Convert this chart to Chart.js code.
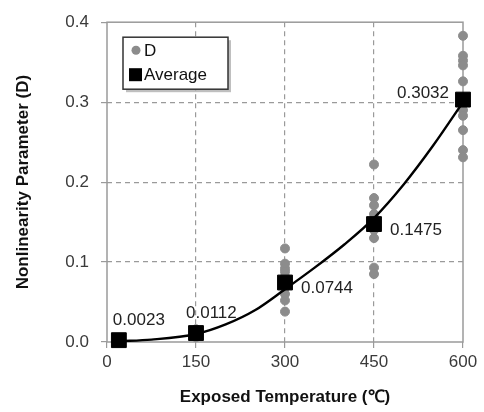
<!DOCTYPE html>
<html>
<head>
<meta charset="utf-8">
<script src="https://cdn.jsdelivr.net/npm/chart.js@4/dist/chart.umd.min.js"></script>
<style>
  html, body { margin: 0; padding: 0; background: #ffffff; }
  #wrap { width: 484px; height: 412px; }
</style>
</head>
<body>
<div id="wrap"><canvas id="chart" width="484" height="412"></canvas></div>
<script>
// Data
const dTemps = [20, 20, 150, 150, 150, 150,
  300, 300, 300, 300, 300, 300, 300, 300, 300, 300,
  450, 450, 450, 450, 450, 450, 450, 450, 450,
  600, 600, 600, 600, 600, 600, 600, 600, 600, 600];
const dValues = [0.002, 0.003, 0.006, 0.010, 0.013, 0.016,
  0.117, 0.098, 0.092, 0.088, 0.082, 0.075, 0.068, 0.060, 0.052, 0.038,
  0.222, 0.180, 0.171, 0.160, 0.150, 0.140, 0.130, 0.093, 0.085,
  0.383, 0.358, 0.352, 0.346, 0.326, 0.290, 0.283, 0.265, 0.240, 0.231];
const avgTemps = [20, 150, 300, 450, 600];
const avgValues = [0.0023, 0.0112, 0.0744, 0.1475, 0.3032];
const curveTemps = [20, 75, 150, 200, 250, 300, 350, 400, 450, 500, 550, 600];
const curveValues = [0.001, 0.003, 0.010, 0.022, 0.040, 0.066, 0.093, 0.122, 0.155, 0.197, 0.246, 0.300];
const xTicks = [0, 150, 300, 450, 600];
const yTicks = [0, 0.1, 0.2, 0.3, 0.4];

const font = "'Liberation Sans', Arial, sans-serif";
const toPoints = (xs, ys) => xs.map((x, i) => ({ x: x, y: ys[i] }));

// where each average label sits relative to its square
const labelPlace = [
  { dx: -6, dy: -20, align: "left" },
  { dx: -10, dy: -20, align: "left" },
  { dx: 16, dy: 6, align: "left" },
  { dx: 16, dy: 6, align: "left" },
  { dx: -14, dy: -6, align: "right" }
];

const avgLabels = {
  id: "avgLabels",
  afterDatasetsDraw(chart) {
    const ctx = chart.ctx;
    const meta = chart.getDatasetMeta(0);
    ctx.save();
    ctx.font = "17px " + font;
    ctx.fillStyle = "#222222";
    ctx.textBaseline = "middle";
    meta.data.forEach((pt, i) => {
      const p = labelPlace[i];
      ctx.textAlign = p.align;
      ctx.fillText(avgValues[i].toFixed(4), pt.x + p.dx, pt.y + p.dy);
    });
    ctx.restore();
  }
};

const frameAndLegend = {
  id: "frameAndLegend",
  beforeDatasetsDraw(chart) {
    const ctx = chart.ctx;
    const a = chart.chartArea;
    ctx.save();
    ctx.strokeStyle = "#9a9a9a";
    ctx.lineWidth = 1.5;
    ctx.strokeRect(a.left, a.top, a.right - a.left, a.bottom - a.top);
    ctx.restore();
  },
  afterDraw(chart) {
    const ctx = chart.ctx;
    const a = chart.chartArea;
    const x = a.left + 16, y = a.top + 15, w = 105, h = 52;
    ctx.save();
    ctx.fillStyle = "rgba(0,0,0,0.25)";
    ctx.fillRect(x + 3, y + 3, w, h);
    ctx.fillStyle = "#ffffff";
    ctx.fillRect(x, y, w, h);
    ctx.strokeStyle = "#333333";
    ctx.lineWidth = 1.5;
    ctx.strokeRect(x, y, w, h);
    ctx.fillStyle = "#8c8c8c";
    ctx.beginPath();
    ctx.arc(x + 13, y + 13, 4.5, 0, Math.PI * 2);
    ctx.fill();
    ctx.fillStyle = "#000000";
    ctx.fillRect(x + 6, y + 31, 13, 13);
    ctx.font = "17px " + font;
    ctx.fillStyle = "#111111";
    ctx.textBaseline = "middle";
    ctx.textAlign = "left";
    ctx.fillText(chart.data.datasets[2].label, x + 21, y + 14);
    ctx.fillText(chart.data.datasets[0].label, x + 21, y + 38);
    ctx.restore();
  }
};

const gridColor = (ctx) => {
  const v = ctx.tick ? ctx.tick.value : null;
  const s = ctx.scale;
  if (v === s.min || v === s.max) return "rgba(0,0,0,0)";
  return "#9a9a9a";
};

new Chart(document.getElementById("chart"), {
  type: "scatter",
  data: {
    datasets: [
      {
        label: "Average",
        data: toPoints(avgTemps, avgValues),
        pointStyle: "rect",
        pointRadius: 10.5,
        backgroundColor: "#000000",
        borderColor: "#000000",
        clip: false,
        order: 0
      },
      {
        label: "fit",
        type: "line",
        data: toPoints(curveTemps, curveValues),
        borderColor: "#000000",
        borderWidth: 2.4,
        pointRadius: 0,
        cubicInterpolationMode: "monotone",
        fill: false,
        order: 1
      },
      {
        label: "D",
        data: toPoints(dTemps, dValues),
        pointStyle: "circle",
        pointRadius: 4.5,
        backgroundColor: "#8c8c8c",
        borderColor: "#8c8c8c",
        clip: false,
        order: 2
      }
    ]
  },
  options: {
    responsive: false,
    animation: false,
    layout: { padding: { top: 17, right: 21, left: 0, bottom: 0 } },
    plugins: { legend: { display: false }, tooltip: { enabled: false } },
    scales: {
      x: {
        type: "linear",
        min: 0,
        max: 600,
        afterBuildTicks: (s) => { s.ticks = xTicks.map(v => ({ value: v })); },
        afterFit: (s) => { s.height = 70; },
        grid: { color: gridColor, tickColor: "#9a9a9a", tickLength: 6, lineWidth: 1.2 },
        border: { display: false, dash: [5, 4] },
        ticks: { color: "#3a3a3a", font: { family: font, size: 17 }, padding: 4 },
        title: {
          display: true,
          text: "Exposed Temperature (℃)",
          color: "#111111",
          font: { family: font, size: 17, weight: "bold" },
          padding: { top: 0, bottom: 4 }
        }
      },
      y: {
        min: 0,
        max: 0.4,
        afterBuildTicks: (s) => { s.ticks = yTicks.map(v => ({ value: v })); },
        afterFit: (s) => { s.width = 107; },
        grid: { color: gridColor, tickColor: "#9a9a9a", tickLength: 6, lineWidth: 1.2 },
        border: { display: false, dash: [5, 4] },
        ticks: {
          color: "#3a3a3a",
          font: { family: font, size: 17 },
          padding: 12,
          callback: (v) => Number(v).toFixed(1)
        },
        title: {
          display: true,
          text: "Nonlinearity Parameter (D)",
          color: "#111111",
          font: { family: font, size: 17, weight: "bold" },
          padding: { top: 13, bottom: 0 }
        }
      }
    }
  },
  plugins: [frameAndLegend, avgLabels]
});
</script>
</body>
</html>
